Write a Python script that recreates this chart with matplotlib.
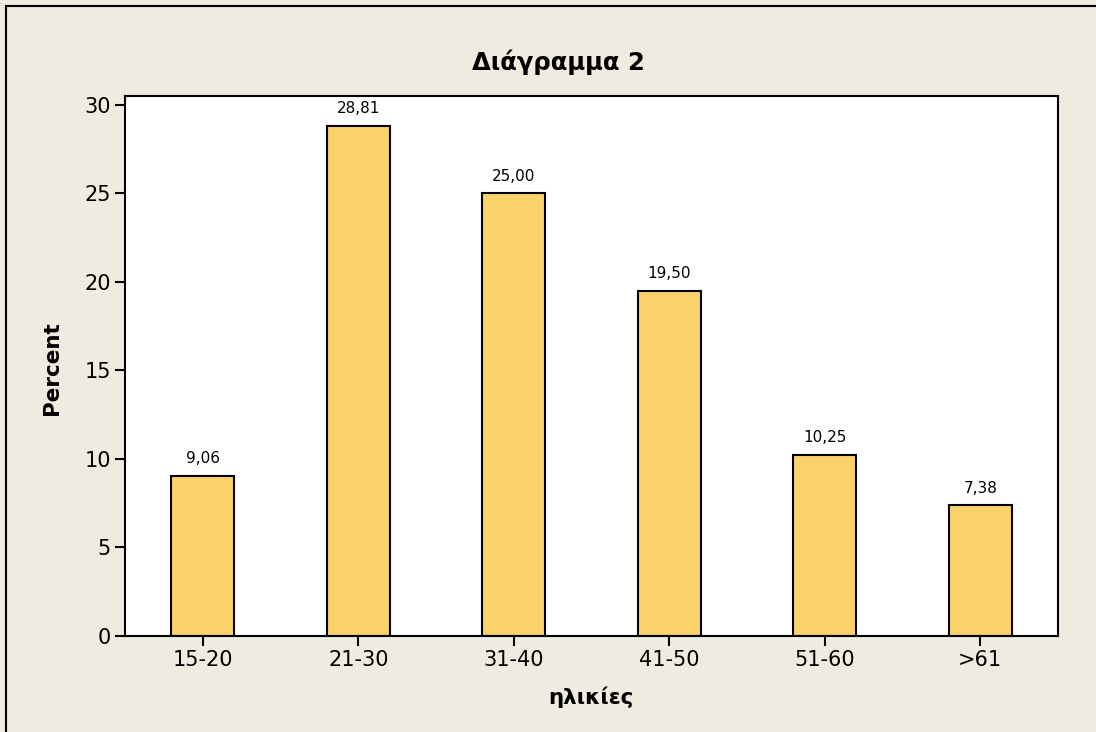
import matplotlib
matplotlib.use("Agg")
import matplotlib.pyplot as plt
from matplotlib.patches import Rectangle

# data
categories = ["15-20", "21-30", "31-40", "41-50", "51-60", ">61"]
percent = [9.06, 28.81, 25.00, 19.50, 10.25, 7.38]
value_labels = ["9,06", "28,81", "25,00", "19,50", "10,25", "7,38"]
y_ticks = [0, 5, 10, 15, 20, 25, 30]

W, H = 1096, 732
fig = plt.figure(figsize=(W / 100, H / 100), dpi=100, facecolor="#EFEBE1")

# outer frame (top and left visible)
fig.patches.append(Rectangle((6 / W, -0.1), 1.2, 1 - 6 / H + 0.1, transform=fig.transFigure,
                             fill=False, edgecolor="black", linewidth=1.5))

ax = fig.add_axes([125 / W, 1 - 636 / H, (1058 - 125) / W, (636 - 96) / H])
ax.set_facecolor("white")

x = list(range(len(categories)))
bars = ax.bar(x, percent, width=0.405, color="#F9D36A", edgecolor="black", linewidth=1.5)

for xi, v, lab in zip(x, percent, value_labels):
    ax.text(xi, v + 0.55, lab, ha="center", va="bottom", fontsize=11)

ax.set_xlim(-0.5, 5.5)
ax.set_ylim(0, 30.5)
ax.set_xticks(x)
ax.set_xticklabels(categories, fontsize=15)
ax.set_yticks(y_ticks)
ax.set_yticklabels([str(t) for t in y_ticks], fontsize=15)
ax.tick_params(direction="out", length=7, width=1.5, pad=3)
for s in ax.spines.values():
    s.set_linewidth(1.5)

fig.text(558 / W, 1 - 62 / H, "Διάγραμμα 2", ha="center", va="center",
         fontsize=17.5, fontweight="bold")
fig.text(591 / W, 1 - 697 / H, "ηλικίες", ha="center", va="center",
         fontsize=15.5, fontweight="bold")
fig.text(52 / W, 1 - 368 / H, "Percent", ha="center", va="center",
         fontsize=15.5, fontweight="bold", rotation=90)

fig.savefig("out.png", dpi=100, facecolor=fig.get_facecolor())
